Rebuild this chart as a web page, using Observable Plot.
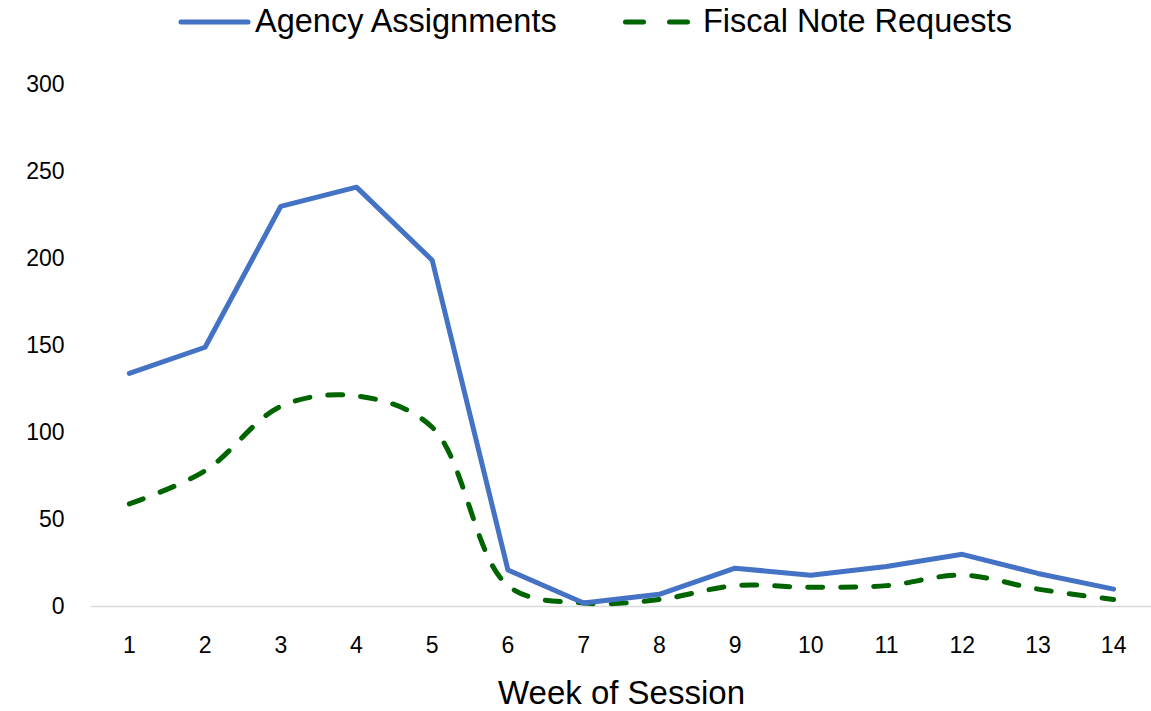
<!DOCTYPE html>
<html><head><meta charset="utf-8">
<script src="https://cdn.jsdelivr.net/npm/d3@7"></script>
<script src="https://cdn.jsdelivr.net/npm/@observablehq/plot@0.6"></script>
<style>
body{margin:0;background:#fff;font-family:"Liberation Sans",sans-serif;}
#legend{position:relative;height:50px;width:1151px;}
.lg{position:absolute;top:1px;font-size:32.5px;color:#000;line-height:40px;white-space:nowrap;}
</style></head><body>
<div id="legend">
<svg width="1151" height="50" style="position:absolute;left:0;top:0">
<line x1="181" x2="248" y1="22" y2="22" stroke="#4472C4" stroke-width="5" stroke-linecap="round"/>
<line x1="625.5" x2="688" y1="22" y2="22" stroke="#006400" stroke-width="5" stroke-linecap="round" stroke-dasharray="18,26"/>
</svg>
<div class="lg" style="left:255px">Agency Assignments</div>
<div class="lg" style="left:703px">Fiscal Note Requests</div>
</div>
<div id="chart"></div>
<script>
const weeks = [1,2,3,4,5,6,7,8,9,10,11,12,13,14];
const agencyAssignments = [134,149,230,241,199,21,2,7,22,18,23,30,19,10];
const fiscalNoteRequests = [59,78,115,121,103,12,2,4,12,11,12,18,10,4];
const yTicks = [0,50,100,150,200,250,300];

const agency = weeks.map((w,i)=>({week:w, value:agencyAssignments[i]}));
const fiscal = weeks.map((w,i)=>({week:w, value:fiscalNoteRequests[i]}));

const chart = Plot.plot({
  width:1151, height:661,
  marginLeft:91, marginRight:0, marginTop:34, marginBottom:105,
  style:{fontFamily:'"Liberation Sans",sans-serif', fontSize:"23px", color:"#000", background:"#fff"},
  x:{domain:[0.5,14.5], ticks:weeks, tickFormat:d=>String(d), tickSize:0, tickPadding:30, label:"Week of Session", labelAnchor:"center", labelArrow:false, labelOffset:97},
  y:{domain:[0,300], ticks:yTicks, tickSize:0, tickPadding:27, label:null},
  marks:[
    Plot.ruleY([0],{stroke:"#d9d9d9", strokeWidth:1.5}),
    Plot.lineY(fiscal,{x:"week", y:"value", stroke:"#006400", strokeWidth:5, strokeDasharray:"15,18", strokeLinecap:"round", curve:"catmull-rom"}),
    Plot.lineY(agency,{x:"week", y:"value", stroke:"#4472C4", strokeWidth:5, strokeLinejoin:"round"})
  ]
});
document.getElementById("chart").appendChild(chart);
chart.querySelectorAll("g[aria-label='x-axis label'] text").forEach(t=>t.style.fontSize="33px");
</script>
</body></html>
